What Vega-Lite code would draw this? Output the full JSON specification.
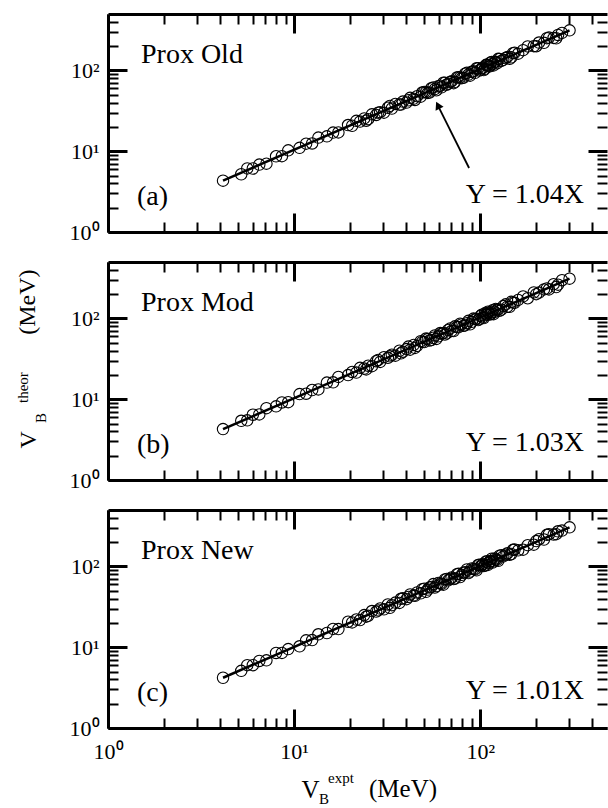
{
"$schema": "https://vega.github.io/schema/vega-lite/v6.json",
"usermeta": {"embedOptions": {"actions": false}},
"padding": {"left": 15, "top": 12, "right": 0, "bottom": 0},
"config": {"font": "Times New Roman, Liberation Serif, serif", "view": {"stroke": null}, "axis": {"grid": false, "domainColor": "black", "tickColor": "black", "labelColor": "black", "titleColor": "black", "labelFont": "Times New Roman, Liberation Serif, serif", "titleFont": "Times New Roman, Liberation Serif, serif", "titleFontWeight": "normal"}, "text": {"color": "black", "font": "Times New Roman, Liberation Serif, serif"}},
"spacing": 30,
"bounds": "flush",
"datasets": {
"p1": [{"x":4.15,"y":4.32},{"x":5.2,"y":5.19},{"x":5.6,"y":6.12},{"x":6.0,"y":6.11},{"x":6.5,"y":6.83},{"x":7.1,"y":7.01},{"x":8.0,"y":8.66},{"x":8.6,"y":8.68},{"x":9.3,"y":10.25},{"x":10.7,"y":11.02},{"x":11.6,"y":12.42},{"x":12.5,"y":12.48},{"x":13.5,"y":14.74},{"x":15.0,"y":15.29},{"x":16.2,"y":17.01},{"x":17.3,"y":17.09},{"x":19.5,"y":21.1},{"x":20.5,"y":20.68},{"x":21.6,"y":23.8},{"x":22.6,"y":23.28},{"x":23.8,"y":25.49},{"x":25.0,"y":24.95},{"x":26.2,"y":28.61},{"x":27.6,"y":28.12},{"x":29.0,"y":30.45},{"x":30.4,"y":30.04},{"x":31.9,"y":34.52},{"x":33.5,"y":33.8},{"x":35.0,"y":38.57},{"x":36.8,"y":37.9},{"x":38.4,"y":41.13},{"x":40.2,"y":40.12},{"x":42.0,"y":45.86},{"x":43.9,"y":44.73},{"x":45.8,"y":48.09},{"x":47.9,"y":47.33},{"x":50.0,"y":54.1},{"x":52.3,"y":52.77},{"x":54.6,"y":60.17},{"x":57.0,"y":58.71},{"x":59.5,"y":63.72},{"x":62.0,"y":61.88},{"x":64.6,"y":70.54},{"x":67.3,"y":68.58},{"x":70.2,"y":73.71},{"x":73.2,"y":72.32},{"x":76.3,"y":82.56},{"x":79.5,"y":80.22},{"x":82.9,"y":91.36},{"x":86.4,"y":88.99},{"x":90.0,"y":96.39},{"x":93.8,"y":93.61},{"x":97.5,"y":106.47},{"x":100.5,"y":102.41},{"x":103.4,"y":108.57},{"x":106.0,"y":104.73},{"x":108.6,"y":117.51},{"x":111.2,"y":112.2},{"x":113.8,"y":125.41},{"x":116.5,"y":120.0},{"x":119.5,"y":127.98},{"x":123.0,"y":122.75},{"x":127.0,"y":138.68},{"x":133.0,"y":135.53},{"x":140.0,"y":147.0},{"x":147.0,"y":145.24},{"x":153.0,"y":165.55},{"x":160.0,"y":161.44},{"x":180.0,"y":198.36},{"x":194.0,"y":199.82},{"x":207.0,"y":221.7},{"x":220.0,"y":219.56},{"x":234.0,"y":255.53},{"x":248.0,"y":252.71},{"x":262.0,"y":275.1},{"x":302.0,"y":314.08},
{"x":24.4,"y":23.86},{"x":28.3,"y":30.03},{"x":32.7,"y":36.4},{"x":37.5,"y":37.84},{"x":41.1,"y":42.74},{"x":44.6,"y":43.13},{"x":48.8,"y":53.29},{"x":51.2,"y":53.76},{"x":53.4,"y":53.29},{"x":56.0,"y":61.71},{"x":58.2,"y":56.92},{"x":61.0,"y":64.72},{"x":63.4,"y":70.56},{"x":66.0,"y":66.59},{"x":69.0,"y":71.76},{"x":72.0,"y":69.62},{"x":75.0,"y":81.9},{"x":78.0,"y":81.9},{"x":81.2,"y":81.04},{"x":84.8,"y":93.45},{"x":88.2,"y":86.26},{"x":92.0,"y":97.61},{"x":95.6,"y":106.4},{"x":99.0,"y":99.89},{"x":102.0,"y":106.08},{"x":104.5,"y":101.05},{"x":107.5,"y":117.39},{"x":110.0,"y":115.5},{"x":112.6,"y":112.37},{"x":115.2,"y":126.95},{"x":118.0,"y":115.4},{"x":121.0,"y":128.38},{"x":125.0,"y":139.13},{"x":130.0,"y":131.17},{"x":137.0,"y":142.48},{"x":144.0,"y":139.25},{"x":150.0,"y":163.8},{"x":170.0,"y":178.5},{"x":200.0,"y":199.6},{"x":228.0,"y":251.26},{"x":256.0,"y":250.37},{"x":275.0,"y":291.78}],
"p2": [{"x":4.15,"y":4.27},{"x":5.2,"y":5.41},{"x":5.6,"y":5.48},{"x":6.0,"y":6.43},{"x":6.5,"y":6.49},{"x":7.1,"y":7.75},{"x":8.0,"y":8.16},{"x":8.6,"y":9.12},{"x":9.3,"y":9.2},{"x":10.7,"y":11.58},{"x":11.6,"y":11.7},{"x":12.5,"y":13.0},{"x":13.5,"y":13.22},{"x":15.0,"y":16.07},{"x":16.2,"y":16.18},{"x":17.3,"y":18.89},{"x":19.5,"y":19.89},{"x":20.5,"y":21.75},{"x":21.6,"y":21.36},{"x":22.6,"y":24.45},{"x":23.8,"y":24.01},{"x":25.0,"y":26.0},{"x":26.2,"y":25.65},{"x":27.6,"y":29.56},{"x":29.0,"y":28.97},{"x":30.4,"y":33.2},{"x":31.9,"y":32.54},{"x":33.5,"y":35.54},{"x":35.0,"y":34.62},{"x":36.8,"y":39.82},{"x":38.4,"y":38.75},{"x":40.2,"y":41.81},{"x":42.0,"y":41.12},{"x":43.9,"y":47.02},{"x":45.8,"y":45.75},{"x":47.9,"y":52.31},{"x":50.0,"y":51.0},{"x":52.3,"y":55.49},{"x":54.6,"y":54.0},{"x":57.0,"y":61.67},{"x":59.5,"y":60.04},{"x":62.0,"y":64.48},{"x":64.6,"y":63.24},{"x":67.3,"y":72.08},{"x":70.2,"y":70.13},{"x":73.2,"y":79.93},{"x":76.3,"y":77.83},{"x":79.5,"y":84.35},{"x":82.9,"y":81.99},{"x":86.4,"y":93.48},{"x":90.0,"y":90.81},{"x":93.8,"y":97.55},{"x":97.5,"y":95.45},{"x":100.5,"y":107.64},{"x":103.4,"y":103.3},{"x":106.0,"y":115.75},{"x":108.6,"y":110.77},{"x":111.2,"y":117.98},{"x":113.8,"y":112.55},{"x":116.5,"y":126.05},{"x":119.5,"y":120.58},{"x":123.0,"y":127.92},{"x":127.0,"y":124.33},{"x":133.0,"y":142.44},{"x":140.0,"y":139.86},{"x":147.0,"y":160.52},{"x":153.0,"y":156.06},{"x":160.0,"y":169.76},{"x":180.0,"y":178.02},{"x":194.0,"y":209.91},{"x":207.0,"y":208.86},{"x":220.0,"y":228.8},{"x":234.0,"y":229.09},{"x":248.0,"y":265.61},{"x":262.0,"y":261.74},{"x":302.0,"y":311.06},
{"x":24.4,"y":23.38},{"x":28.3,"y":30.62},{"x":32.7,"y":34.01},{"x":37.5,"y":37.09},{"x":41.1,"y":44.88},{"x":44.6,"y":43.17},{"x":48.8,"y":51.29},{"x":51.2,"y":56.42},{"x":53.4,"y":53.35},{"x":56.0,"y":57.68},{"x":58.2,"y":55.76},{"x":61.0,"y":66.0},{"x":63.4,"y":65.94},{"x":66.0,"y":65.27},{"x":69.0,"y":75.35},{"x":72.0,"y":69.7},{"x":75.0,"y":78.83},{"x":78.0,"y":85.96},{"x":81.2,"y":81.12},{"x":84.8,"y":87.34},{"x":88.2,"y":84.5},{"x":92.0,"y":99.54},{"x":95.6,"y":99.42},{"x":99.0,"y":97.91},{"x":102.0,"y":111.38},{"x":104.5,"y":101.16},{"x":107.5,"y":112.98},{"x":110.0,"y":121.22},{"x":112.6,"y":112.49},{"x":115.2,"y":118.66},{"x":118.0,"y":113.04},{"x":121.0,"y":130.92},{"x":125.0,"y":130.0},{"x":130.0,"y":128.57},{"x":137.0,"y":149.6},{"x":144.0,"y":139.39},{"x":150.0,"y":157.65},{"x":170.0,"y":187.34},{"x":200.0,"y":199.8},{"x":228.0,"y":234.84},{"x":256.0,"y":245.25},{"x":275.0,"y":297.55}],
"p3": [{"x":4.15,"y":4.19},{"x":5.2,"y":5.1},{"x":5.6,"y":6.0},{"x":6.0,"y":6.0},{"x":6.5,"y":6.76},{"x":7.1,"y":6.89},{"x":8.0,"y":8.49},{"x":8.6,"y":8.51},{"x":9.3,"y":9.49},{"x":10.7,"y":10.27},{"x":11.6,"y":12.18},{"x":12.5,"y":12.25},{"x":13.5,"y":14.46},{"x":15.0,"y":15.0},{"x":16.2,"y":16.85},{"x":17.3,"y":16.78},{"x":19.5,"y":20.69},{"x":20.5,"y":20.3},{"x":21.6,"y":22.03},{"x":22.6,"y":21.7},{"x":23.8,"y":24.99},{"x":25.0,"y":24.5},{"x":26.2,"y":28.06},{"x":27.6,"y":27.6},{"x":29.0,"y":30.16},{"x":30.4,"y":29.49},{"x":31.9,"y":33.85},{"x":33.5,"y":33.17},{"x":35.0,"y":35.7},{"x":36.8,"y":35.33},{"x":38.4,"y":40.32},{"x":40.2,"y":39.4},{"x":42.0,"y":44.98},{"x":43.9,"y":43.9},{"x":45.8,"y":47.63},{"x":47.9,"y":46.46},{"x":50.0,"y":53.05},{"x":52.3,"y":51.78},{"x":54.6,"y":55.69},{"x":57.0,"y":54.72},{"x":59.5,"y":62.48},{"x":62.0,"y":60.76},{"x":64.6,"y":69.19},{"x":67.3,"y":67.3},{"x":70.2,"y":73.01},{"x":73.2,"y":71.0},{"x":76.3,"y":80.95},{"x":79.5,"y":78.71},{"x":82.9,"y":84.56},{"x":86.4,"y":82.94},{"x":90.0,"y":94.5},{"x":93.8,"y":91.92},{"x":97.5,"y":104.42},{"x":100.5,"y":100.5},{"x":103.4,"y":107.54},{"x":106.0,"y":102.82},{"x":108.6,"y":115.22},{"x":111.2,"y":110.09},{"x":113.8,"y":116.08},{"x":116.5,"y":111.84},{"x":119.5,"y":125.48},{"x":123.0,"y":120.54},{"x":127.0,"y":136.02},{"x":133.0,"y":133.0},{"x":140.0,"y":145.6},{"x":147.0,"y":142.59},{"x":153.0,"y":162.33},{"x":160.0,"y":158.4},{"x":180.0,"y":183.6},{"x":194.0,"y":186.24},{"x":207.0,"y":217.35},{"x":220.0,"y":215.6},{"x":234.0,"y":250.61},{"x":248.0,"y":248.0},{"x":262.0,"y":272.48},{"x":302.0,"y":305.02},
{"x":24.4,"y":23.91},{"x":28.3,"y":28.58},{"x":32.7,"y":30.71},{"x":37.5,"y":39.79},{"x":41.1,"y":41.92},{"x":44.6,"y":43.26},{"x":48.8,"y":52.26},{"x":51.2,"y":48.59},{"x":53.4,"y":55.0},{"x":56.0,"y":60.54},{"x":58.2,"y":57.04},{"x":61.0,"y":61.61},{"x":63.4,"y":59.53},{"x":66.0,"y":70.03},{"x":69.0,"y":70.38},{"x":72.0,"y":69.84},{"x":75.0,"y":80.33},{"x":78.0,"y":74.02},{"x":81.2,"y":83.64},{"x":84.8,"y":91.67},{"x":88.2,"y":86.44},{"x":92.0,"y":92.92},{"x":95.6,"y":89.77},{"x":99.0,"y":105.04},{"x":102.0,"y":104.04},{"x":104.5,"y":101.37},{"x":107.5,"y":115.13},{"x":110.0,"y":104.39},{"x":112.6,"y":115.98},{"x":115.2,"y":124.53},{"x":118.0,"y":115.64},{"x":121.0,"y":122.21},{"x":125.0,"y":117.38},{"x":130.0,"y":137.93},{"x":137.0,"y":139.74},{"x":144.0,"y":139.68},{"x":150.0,"y":160.65},{"x":170.0,"y":161.33},{"x":200.0,"y":206.0},{"x":228.0,"y":246.47},{"x":256.0,"y":250.88},{"x":275.0,"y":277.75}],
"l1": [{"x":4.15,"y":4.32},{"x":302.0,"y":314.08}],
"l2": [{"x":4.15,"y":4.27},{"x":302.0,"y":311.06}],
"l3": [{"x":4.15,"y":4.19},{"x":302.0,"y":305.02}]
},
"vconcat": [
{
"width": 499, "height": 218,
"layer": [
{"data": {"name": "p1"}, "mark": {"type": "point", "shape": "circle", "filled": false, "stroke": "black", "strokeWidth": 1.1, "size": 130, "opacity": 1},
 "encoding": {
  "x": {"field": "x", "type": "quantitative", "scale": {"type": "log", "domain": [1, 480], "nice": false}, "axis": {"orient": "bottom", "values": [1, 10, 100], "tickSize": -19, "tickWidth": 3, "domain": true, "domainWidth": 3, "labels": false, "title": null}},
  "y": {"field": "y", "type": "quantitative", "scale": {"type": "log", "domain": [1, 500], "nice": false}, "axis": {"orient": "left", "values": [1, 10, 100], "tickSize": -19, "tickWidth": 3, "domain": true, "domainWidth": 3, "labelExpr": "datum.value == 1 ? '10⁰' : (datum.value == 10 ? '10¹' : '10²')", "labelFontSize": 22, "labelPadding": 28, "labelFlush": false, "labelOverlap": false, "labelBound": false, "title": null}}}},
{"data": {"name": "l1"}, "mark": {"type": "line", "color": "black", "strokeWidth": 2.5},
 "encoding": {
  "x": {"field": "x", "type": "quantitative", "scale": {"type": "log", "domain": [1, 480], "nice": false}, "axis": {"orient": "bottom", "values": [2,3,4,5,6,7,8,9,20,30,40,50,60,70,80,90,200,300,400], "tickSize": -10, "tickWidth": 2, "domain": false, "labels": false, "title": null}},
  "y": {"field": "y", "type": "quantitative", "scale": {"type": "log", "domain": [1, 500], "nice": false}, "axis": {"orient": "left", "values": [2,3,4,5,6,7,8,9,20,30,40,50,60,70,80,90,200,300,400], "tickSize": -10, "tickWidth": 2, "domain": false, "labels": false, "title": null}}}},
{"data": {"values": [{}]}, "mark": {"type": "text", "text": "Prox Old", "fontSize": 28, "align": "left", "baseline": "alphabetic"},
 "encoding": {
  "x": {"datum": 1.504, "type": "quantitative", "scale": {"type": "log", "domain": [1, 480], "nice": false}, "axis": {"orient": "top", "values": [1, 10, 100], "tickSize": -19, "tickWidth": 3, "domain": true, "domainWidth": 3, "labels": false, "title": null}},
  "y": {"datum": 123.5, "type": "quantitative", "scale": {"type": "log", "domain": [1, 500], "nice": false}, "axis": {"orient": "right", "values": [1, 10, 100], "tickSize": -19, "tickWidth": 3, "domain": false, "labels": false, "title": null}}}},
{"data": {"values": [{}]}, "mark": {"type": "text", "text": "(a)", "fontSize": 28, "align": "left", "baseline": "alphabetic"},
 "encoding": {
  "x": {"datum": 1.43, "type": "quantitative", "scale": {"type": "log", "domain": [1, 480], "nice": false}, "axis": {"orient": "top", "values": [2,3,4,5,6,7,8,9,20,30,40,50,60,70,80,90,200,300,400], "tickSize": -10, "tickWidth": 2, "domain": false, "labels": false, "title": null}},
  "y": {"datum": 2.16, "type": "quantitative", "scale": {"type": "log", "domain": [1, 500], "nice": false}, "axis": {"orient": "right", "values": [2,3,4,5,6,7,8,9,20,30,40,50,60,70,80,90,200,300,400], "tickSize": -10, "tickWidth": 2, "domain": false, "labels": false, "title": null}}}},
{"data": {"values": [{}]}, "mark": {"type": "text", "text": "Y = 1.04X", "fontSize": 28, "align": "right", "baseline": "alphabetic"},
 "encoding": {
  "x": {"datum": 361, "type": "quantitative", "axis": null},
  "y": {"datum": 2.31, "type": "quantitative", "axis": null}}},
{"data": {"values": [{}]}, "mark": {"type": "rule", "color": "black", "strokeWidth": 1.8},
 "encoding": {
  "x": {"datum": 87.1, "type": "quantitative", "axis": null},
  "y": {"datum": 6.2, "type": "quantitative", "axis": null},
  "x2": {"datum": 59.2},
  "y2": {"datum": 37.0}}},
{"data": {"values": [{}]}, "mark": {"type": "point", "shape": "triangle-up", "filled": true, "color": "black", "size": 80, "angle": 333.5, "opacity": 1},
 "encoding": {
  "x": {"datum": 59.2, "type": "quantitative", "axis": null},
  "y": {"datum": 37.0, "type": "quantitative", "axis": null}}}
],
"resolve": {"axis": {"x": "independent", "y": "independent"}}
},
{
"width": 499, "height": 218,
"layer": [
{"data": {"name": "p2"}, "mark": {"type": "point", "shape": "circle", "filled": false, "stroke": "black", "strokeWidth": 1.1, "size": 130, "opacity": 1},
 "encoding": {
  "x": {"field": "x", "type": "quantitative", "scale": {"type": "log", "domain": [1, 480], "nice": false}, "axis": {"orient": "bottom", "values": [1, 10, 100], "tickSize": -19, "tickWidth": 3, "domain": true, "domainWidth": 3, "labels": false, "title": null}},
  "y": {"field": "y", "type": "quantitative", "scale": {"type": "log", "domain": [1, 500], "nice": false}, "axis": {"orient": "left", "values": [1, 10, 100], "tickSize": -19, "tickWidth": 3, "domain": true, "domainWidth": 3, "labelExpr": "datum.value == 1 ? '10⁰' : (datum.value == 10 ? '10¹' : '10²')", "labelFontSize": 22, "labelPadding": 28, "labelFlush": false, "labelOverlap": false, "labelBound": false, "title": "V", "titleFontSize": 24, "titleAngle": 270, "titleAlign": "left", "titleBaseline": "alphabetic", "titleX": -73, "titleY": 186}}}},
{"data": {"name": "l2"}, "mark": {"type": "line", "color": "black", "strokeWidth": 2.5},
 "encoding": {
  "x": {"field": "x", "type": "quantitative", "scale": {"type": "log", "domain": [1, 480], "nice": false}, "axis": {"orient": "bottom", "values": [2,3,4,5,6,7,8,9,20,30,40,50,60,70,80,90,200,300,400], "tickSize": -10, "tickWidth": 2, "domain": false, "labels": false, "title": null}},
  "y": {"field": "y", "type": "quantitative", "scale": {"type": "log", "domain": [1, 500], "nice": false}, "axis": {"orient": "left", "values": [2,3,4,5,6,7,8,9,20,30,40,50,60,70,80,90,200,300,400], "tickSize": -10, "tickWidth": 2, "domain": false, "labels": false, "title": null}}}},
{"data": {"values": [{}]}, "mark": {"type": "text", "text": "Prox Mod", "fontSize": 28, "align": "left", "baseline": "alphabetic"},
 "encoding": {
  "x": {"datum": 1.504, "type": "quantitative", "scale": {"type": "log", "domain": [1, 480], "nice": false}, "axis": {"orient": "top", "values": [1, 10, 100], "tickSize": -19, "tickWidth": 3, "domain": true, "domainWidth": 3, "labels": false, "title": null}},
  "y": {"datum": 123.5, "type": "quantitative", "scale": {"type": "log", "domain": [1, 500], "nice": false}, "axis": {"orient": "right", "values": [1, 10, 100], "tickSize": -19, "tickWidth": 3, "domain": false, "labels": false, "title": null}}}},
{"data": {"values": [{}]}, "mark": {"type": "text", "text": "(b)", "fontSize": 28, "align": "left", "baseline": "alphabetic"},
 "encoding": {
  "x": {"datum": 1.43, "type": "quantitative", "scale": {"type": "log", "domain": [1, 480], "nice": false}, "axis": {"orient": "top", "values": [2,3,4,5,6,7,8,9,20,30,40,50,60,70,80,90,200,300,400], "tickSize": -10, "tickWidth": 2, "domain": false, "labels": false, "title": null}},
  "y": {"datum": 2.16, "type": "quantitative", "scale": {"type": "log", "domain": [1, 500], "nice": false}, "axis": {"orient": "right", "values": [2,3,4,5,6,7,8,9,20,30,40,50,60,70,80,90,200,300,400], "tickSize": -10, "tickWidth": 2, "domain": false, "labels": false, "title": null}}}},
{"data": {"values": [{}]}, "mark": {"type": "text", "text": "Y = 1.03X", "fontSize": 28, "align": "right", "baseline": "alphabetic"},
 "encoding": {
  "x": {"datum": 361, "type": "quantitative", "axis": null},
  "y": {"datum": 2.31, "type": "quantitative", "axis": null}}},
{"data": {"values": [{}]}, "mark": {"type": "text", "text": "theor", "fontSize": 15, "angle": 270, "align": "left", "baseline": "alphabetic"},
 "encoding": {
  "x": {"datum": 0.3715, "type": "quantitative", "axis": null},
  "y": {"datum": 8.97, "type": "quantitative", "axis": null}}},
{"data": {"values": [{}]}, "mark": {"type": "text", "text": "B", "fontSize": 15, "angle": 270, "align": "left", "baseline": "alphabetic"},
 "encoding": {
  "x": {"datum": 0.4645, "type": "quantitative", "axis": null},
  "y": {"datum": 5.08, "type": "quantitative", "axis": null}}},
{"data": {"values": [{}]}, "mark": {"type": "text", "text": "(MeV)", "fontSize": 24, "angle": 270, "align": "left", "baseline": "alphabetic"},
 "encoding": {
  "x": {"datum": 0.4052, "type": "quantitative", "axis": null},
  "y": {"datum": 62.9, "type": "quantitative", "axis": null}}}
],
"resolve": {"axis": {"x": "independent", "y": "independent"}}
},
{
"width": 499, "height": 218,
"layer": [
{"data": {"name": "p3"}, "mark": {"type": "point", "shape": "circle", "filled": false, "stroke": "black", "strokeWidth": 1.1, "size": 130, "opacity": 1},
 "encoding": {
  "x": {"field": "x", "type": "quantitative", "scale": {"type": "log", "domain": [1, 480], "nice": false}, "axis": {"orient": "bottom", "values": [1, 10, 100], "tickSize": -19, "tickWidth": 3, "domain": true, "domainWidth": 3, "labels": true, "labelExpr": "datum.value == 1 ? '10⁰' : (datum.value == 10 ? '10¹' : '10²')", "labelFontSize": 22, "labelPadding": 32, "labelFlush": false, "labelOverlap": false, "labelBound": false, "title": "V", "titleFontSize": 25, "titleAngle": 0, "titleAlign": "left", "titleBaseline": "alphabetic", "titleX": 193, "titleY": 69}},
  "y": {"field": "y", "type": "quantitative", "scale": {"type": "log", "domain": [1, 500], "nice": false}, "axis": {"orient": "left", "values": [1, 10, 100], "tickSize": -19, "tickWidth": 3, "domain": true, "domainWidth": 3, "labelExpr": "datum.value == 1 ? '10⁰' : (datum.value == 10 ? '10¹' : '10²')", "labelFontSize": 22, "labelPadding": 28, "labelFlush": false, "labelOverlap": false, "labelBound": false, "title": null}}}},
{"data": {"name": "l3"}, "mark": {"type": "line", "color": "black", "strokeWidth": 2.5},
 "encoding": {
  "x": {"field": "x", "type": "quantitative", "scale": {"type": "log", "domain": [1, 480], "nice": false}, "axis": {"orient": "bottom", "values": [2,3,4,5,6,7,8,9,20,30,40,50,60,70,80,90,200,300,400], "tickSize": -10, "tickWidth": 2, "domain": false, "labels": false, "title": null}},
  "y": {"field": "y", "type": "quantitative", "scale": {"type": "log", "domain": [1, 500], "nice": false}, "axis": {"orient": "left", "values": [2,3,4,5,6,7,8,9,20,30,40,50,60,70,80,90,200,300,400], "tickSize": -10, "tickWidth": 2, "domain": false, "labels": false, "title": null}}}},
{"data": {"values": [{}]}, "mark": {"type": "text", "text": "Prox New", "fontSize": 28, "align": "left", "baseline": "alphabetic"},
 "encoding": {
  "x": {"datum": 1.504, "type": "quantitative", "scale": {"type": "log", "domain": [1, 480], "nice": false}, "axis": {"orient": "top", "values": [1, 10, 100], "tickSize": -19, "tickWidth": 3, "domain": true, "domainWidth": 3, "labels": false, "title": null}},
  "y": {"datum": 123.5, "type": "quantitative", "scale": {"type": "log", "domain": [1, 500], "nice": false}, "axis": {"orient": "right", "values": [1, 10, 100], "tickSize": -19, "tickWidth": 3, "domain": false, "labels": false, "title": null}}}},
{"data": {"values": [{}]}, "mark": {"type": "text", "text": "(c)", "fontSize": 28, "align": "left", "baseline": "alphabetic"},
 "encoding": {
  "x": {"datum": 1.43, "type": "quantitative", "scale": {"type": "log", "domain": [1, 480], "nice": false}, "axis": {"orient": "top", "values": [2,3,4,5,6,7,8,9,20,30,40,50,60,70,80,90,200,300,400], "tickSize": -10, "tickWidth": 2, "domain": false, "labels": false, "title": null}},
  "y": {"datum": 2.16, "type": "quantitative", "scale": {"type": "log", "domain": [1, 500], "nice": false}, "axis": {"orient": "right", "values": [2,3,4,5,6,7,8,9,20,30,40,50,60,70,80,90,200,300,400], "tickSize": -10, "tickWidth": 2, "domain": false, "labels": false, "title": null}}}},
{"data": {"values": [{}]}, "mark": {"type": "text", "text": "Y = 1.01X", "fontSize": 28, "align": "right", "baseline": "alphabetic"},
 "encoding": {
  "x": {"datum": 361, "type": "quantitative", "axis": null},
  "y": {"datum": 2.31, "type": "quantitative", "axis": null}}},
{"data": {"values": [{}]}, "mark": {"type": "text", "text": "B", "fontSize": 15, "align": "left", "baseline": "alphabetic"},
 "encoding": {
  "x": {"datum": 13.61, "type": "quantitative", "axis": null},
  "y": {"datum": 0.115, "type": "quantitative", "axis": null}}},
{"data": {"values": [{}]}, "mark": {"type": "text", "text": "expt", "fontSize": 15, "align": "left", "baseline": "alphabetic"},
 "encoding": {
  "x": {"datum": 15.21, "type": "quantitative", "axis": null},
  "y": {"datum": 0.2086, "type": "quantitative", "axis": null}}},
{"data": {"values": [{}]}, "mark": {"type": "text", "text": "(MeV)", "fontSize": 25, "align": "left", "baseline": "alphabetic"},
 "encoding": {
  "x": {"datum": 25.26, "type": "quantitative", "axis": null},
  "y": {"datum": 0.14, "type": "quantitative", "axis": null}}}
],
"resolve": {"axis": {"x": "independent", "y": "independent"}}
}
]
}
